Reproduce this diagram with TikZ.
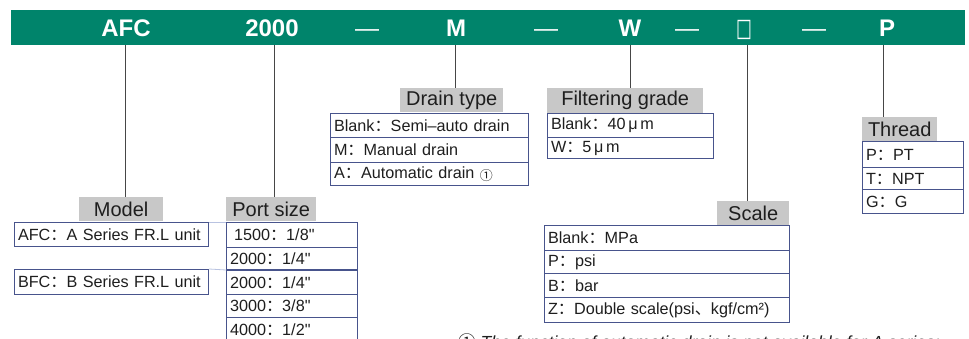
\documentclass[tikz,border=0pt]{standalone}
\usepackage{fontspec}
\usepackage{graphicx}
\setmainfont{Liberation Sans}[Ligatures=TeXOff]
\newfontfamily\cjk{Noto Sans CJK SC}
\newfontfamily\symf{DejaVu Sans}
\definecolor{barg}{RGB}{0,132,107}
\definecolor{bord}{RGB}{72,84,140}
\definecolor{lblg}{RGB}{200,200,200}
\definecolor{txt}{RGB}{30,30,30}
\definecolor{faintc}{RGB}{185,195,225}
\definecolor{linkc}{RGB}{70,70,70}
\newcommand\cc{{\cjk ：}}
\newcommand\qq{\char34\relax}
\begin{document}
\begin{tikzpicture}[x=1pt,y=-1pt,
  hdr/.style={text=white, font=\fontsize{24}{24}\selectfont\bfseries, inner sep=0pt, anchor=base},
  hdash/.style={text=white, font=\fontsize{24}{24}\selectfont, inner sep=0pt, anchor=base},
  lbl/.style={fill=lblg, text=txt, font=\fontsize{20}{20}\selectfont, inner sep=0pt, anchor=north west},
  cell/.style={draw=bord, line width=1pt, anchor=north west, inner xsep=3.5pt, inner ysep=0pt, align=left, font=\fontsize{16.2}{17}\selectfont, text=txt},
  link/.style={draw=linkc, line width=1pt},
  faint/.style={draw=faintc, line width=0.8pt}]
\useasboundingbox (0,0) rectangle (969,339);
\clip (0,0) rectangle (969,339);
% header bar
\node[fill=barg, minimum width=954pt, minimum height=35pt, anchor=north west, inner sep=0pt] (bar) at (11,10) {};
\node[hdr] (hA) at (126,37) {AFC};
\node[hdr] (hB) at (272,37) {2000};
\node[hdash] (d1) at (367,37) {—};
\node[hdr] (hM) at (456,37) {M};
\node[hdash] (d2) at (546,37) {—};
\node[hdr] (hW) at (630,37) {W};
\node[hdash] (d3) at (687,37) {—};
\node[text=white, inner sep=0pt, anchor=base, font=\symf\fontsize{21}{21}\selectfont] (hS) at (744,37) {\scalebox{0.8}[1.2]{□}};
\node[hdash] (d4) at (814,37) {—};
\node[hdr] (hP) at (887,37) {P};
% connector tops
\coordinate (cA) at (125,45.5);
\coordinate (cB) at (274,45.5);
\coordinate (cM) at (455,45.5);
\coordinate (cW) at (630,45.5);
\coordinate (cS) at (747,45.5);
\coordinate (cP) at (883,45.5);
% Model
\node[lbl, minimum width=84pt, minimum height=24pt] (model) at (79,197) {Model};
\node[cell, text width=187pt, minimum height=24pt] (afc) at (14,222) {AFC\cc A Series FR.L unit};
\node[cell, text width=187pt, minimum height=25pt] (bfc) at (14,269) {BFC\cc B Series FR.L unit};
% Port size
\node[lbl, minimum width=90pt, minimum height=24pt] (port) at (226,197) {Port size};
\node[cell, text width=124pt, minimum height=25pt] (p1) at (226,222) {\hspace{4pt}1500\cc 1/8\qq};
\node[cell, text width=124pt, minimum height=22pt] (p2) at (226,247) {2000\cc 1/4\qq};
\node[cell, text width=124pt, minimum height=24pt] (p3) at (226,270) {2000\cc 1/4\qq};
\node[cell, text width=124pt, minimum height=23pt] (p4) at (226,294) {3000\cc 3/8\qq};
\node[cell, text width=124pt, minimum height=25pt] (p5) at (226,317) {4000\cc 1/2\qq};
% Drain type
\node[lbl, minimum width=103pt, minimum height=24pt] (drain) at (400,88) {Drain type};
\node[cell, text width=191pt, minimum height=24pt] (dr1) at (330,113) {Blank\cc Semi–auto drain};
\node[cell, text width=191pt, minimum height=25pt] (dr2) at (330,137) {M\cc Manual drain};
\node[cell, text width=191pt, minimum height=23pt] (dr3) at (330,162) {A\cc Automatic drain \raisebox{-2pt}{\cjk\fontsize{13}{13}\selectfont ①}};
% Filtering grade
\node[lbl, minimum width=156pt, minimum height=25pt] (filt) at (547,88) {Filtering grade};
\node[cell, text width=159pt, minimum height=24pt] (f1) at (547,113) {Blank\cc 40\,μ\,m};
\node[cell, text width=159pt, minimum height=21pt] (f2) at (547,137) {W\cc 5\,μ\,m};
% Scale
\node[lbl, minimum width=72pt, minimum height=24pt] (scale) at (717,201) {Scale};
\node[cell, text width=238pt, minimum height=25pt] (s1) at (544,225) {Blank\cc MPa};
\node[cell, text width=238pt, minimum height=23pt] (s2) at (544,250) {P\cc psi};
\node[cell, text width=238pt, minimum height=24pt] (s3) at (544,273) {B\cc bar};
\node[cell, text width=238pt, minimum height=25pt] (s4) at (544,297) {Z\cc Double scale(psi{\cjk 、}kgf/cm²)};
% Thread
\node[lbl, minimum width=75pt, minimum height=24pt] (thread) at (862,117) {Thread};
\node[cell, text width=94pt, minimum height=26pt] (t1) at (862,141) {P\cc PT};
\node[cell, text width=94pt, minimum height=22pt] (t2) at (862,167) {T\cc NPT};
\node[cell, text width=94pt, minimum height=24pt] (t3) at (862,189) {G\cc G};
% connectors
\draw[link] (cA) -- (cA |- model.north);
\draw[link] (cB) -- (cB |- port.north);
\draw[link] (cM) -- (cM |- drain.north);
\draw[link] (cW) -- (cW |- filt.north);
\draw[link] (cS) -- (cS |- scale.north);
\draw[link] (cP) -- (cP |- thread.north);
\draw[faint] (afc.north east) -- (p1.north west);
\draw[faint] (bfc.north east) -- (p3.north west);
% footnote
\node[anchor=north west, inner sep=0pt, text=txt, font=\fontsize{17.5}{18}\selectfont\itshape] (note) at (458,333) {{\cjk\upshape ①} The function of automatic drain is not available for A series;};
\end{tikzpicture}
\end{document}
